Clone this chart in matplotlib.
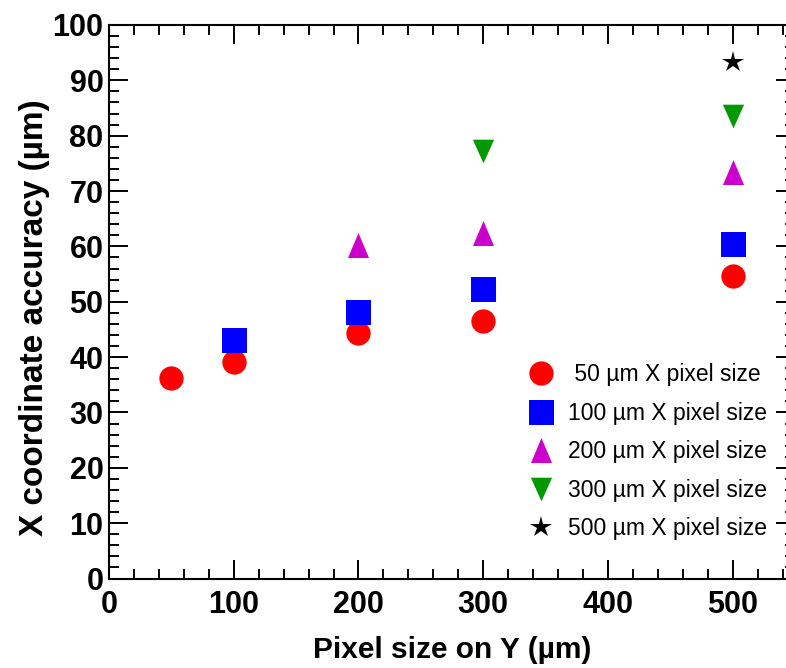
import matplotlib
matplotlib.use("Agg")
import matplotlib.pyplot as plt
from matplotlib.ticker import MultipleLocator

plt.rcParams["font.family"] = ["Liberation Sans", "DejaVu Sans"]

# X coordinate accuracy vs. pixel size on Y, one series per X pixel size
y_pixel_50 = [50, 100, 200, 300, 500]
acc_50 = [36.3, 39.2, 44.4, 46.6, 54.7]

y_pixel_100 = [100, 200, 300, 500]
acc_100 = [43.0, 48.1, 52.3, 60.4]

y_pixel_200 = [200, 300, 500]
acc_200 = [60.3, 62.5, 73.4]

y_pixel_300 = [300, 500]
acc_300 = [77.2, 83.6]

y_pixel_500 = [500]
acc_500 = [93.4]

labels = [
    " 50 \u00b5m X pixel size",
    "100 \u00b5m X pixel size",
    "200 \u00b5m X pixel size",
    "300 \u00b5m X pixel size",
    "500 \u00b5m X pixel size",
]

W, H = 786, 668
fig = plt.figure(figsize=(W / 100, H / 100), dpi=100)
# frame runs slightly past the right edge of the canvas
left, right, top, bottom = 109, 795, 25, 578.5
ax = fig.add_axes([left / W, 1 - bottom / H, (right - left) / W, (bottom - top) / H])

up_tri = [(0, 1), (-0.84, -1), (0.84, -1)]
down_tri = [(0, -1), (-0.9, 1), (0.9, 1)]

series = [
    (y_pixel_50, acc_50, dict(marker="o", color="#ff0000", ms=17.5)),
    (y_pixel_100, acc_100, dict(marker="s", color="#0000ff", ms=18)),
    (y_pixel_200, acc_200, dict(marker=up_tri, color="#cc00cc", ms=18)),
    (y_pixel_300, acc_300, dict(marker=down_tri, color="#009900", ms=17)),
    (y_pixel_500, acc_500, dict(marker="*", color="#000000", ms=16)),
]
for (xs, ys, st), lab in zip(series, labels):
    ax.plot(xs, ys, linestyle="none", marker=st["marker"], color=st["color"],
            markersize=st["ms"], markeredgewidth=0, label=lab)

ax.set_xlim(0, 550)
ax.set_ylim(0, 100)
ax.xaxis.set_major_locator(MultipleLocator(100))
ax.xaxis.set_minor_locator(MultipleLocator(20))
ax.yaxis.set_major_locator(MultipleLocator(10))
ax.yaxis.set_minor_locator(MultipleLocator(2))

for s in ax.spines.values():
    s.set_linewidth(1.5)
ax.tick_params(which="both", direction="in", top=True, right=True, width=1.4)
ax.tick_params(which="major", length=13.5)
ax.tick_params(which="minor", length=7)
ax.tick_params(axis="x", which="major", pad=8)
ax.tick_params(axis="y", which="major", pad=4)
for t in ax.get_xticklabels() + ax.get_yticklabels():
    t.set_fontsize(22)
    t.set_fontweight("bold")

ax.set_xlabel("Pixel size on Y (\u00b5m)", fontsize=21.5, fontweight="bold")
ax.set_ylabel("X coordinate accuracy (\u00b5m)", fontsize=24, fontweight="bold")
ax.xaxis.set_label_coords(0.5, -0.104)
ax.yaxis.set_label_coords(-0.086, 0.4715)

ax.legend(loc="upper left", bbox_to_anchor=(529.5 / W, 1 - 363 / H),
          bbox_transform=fig.transFigure, frameon=False, fontsize=16.5,
          handlelength=1.0, handletextpad=0.68, labelspacing=0.68,
          borderpad=0, borderaxespad=0)

fig.savefig("out.png", dpi=100)
